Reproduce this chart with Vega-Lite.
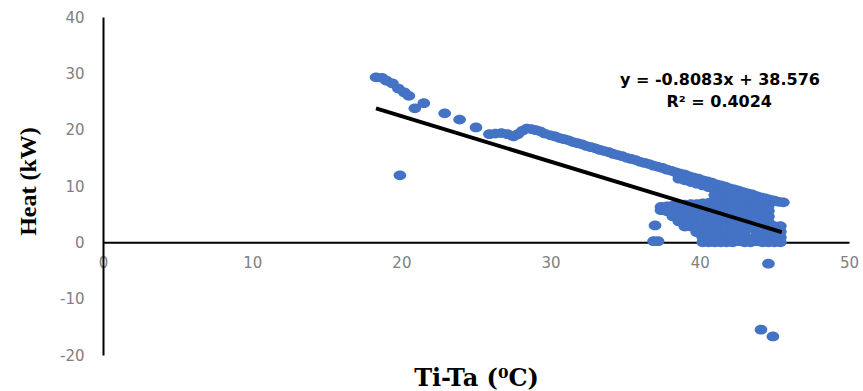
{
  "$schema": "https://vega.github.io/schema/vega-lite/v6.json",
  "width": 746,
  "height": 338,
  "autosize": {"type": "none"},
  "padding": {"left": 103, "top": 17, "right": 14, "bottom": 36},
  "background": "white",
  "config": {"view": {"stroke": null}},
  "layer": [
    {
      "data": {"values": [
        {"x":18.3,"y":29.3},{"x":18.7,"y":29.2},{"x":19.0,"y":28.7},{"x":19.4,"y":28.2},{"x":19.8,"y":27.3},{"x":20.2,"y":26.6},{"x":20.5,"y":26.0},{"x":20.9,"y":23.8},{"x":21.5,"y":24.7},{"x":22.9,"y":22.9},{"x":23.9,"y":21.8},{"x":25.0,"y":20.4},{"x":25.9,"y":19.2},{"x":26.3,"y":19.3},{"x":26.7,"y":19.4},{"x":27.1,"y":19.2},{"x":27.5,"y":18.8},{"x":27.8,"y":19.2},{"x":28.1,"y":19.8},{"x":28.4,"y":20.2},{"x":28.7,"y":20.1},{"x":29.0,"y":19.9},{"x":29.3,"y":19.7},{"x":29.6,"y":19.3},
        {"x":19.9,"y":11.9},
        {"x":30.0,"y":19.0},{"x":30.3,"y":18.8},{"x":30.6,"y":18.5},{"x":30.9,"y":18.3},{"x":31.2,"y":18.1},{"x":31.5,"y":17.8},{"x":31.8,"y":17.6},{"x":32.1,"y":17.4},{"x":32.4,"y":17.1},{"x":32.7,"y":16.9},{"x":33.0,"y":16.7},{"x":33.3,"y":16.4},{"x":33.6,"y":16.2},{"x":33.9,"y":16.0},{"x":34.2,"y":15.7},{"x":34.5,"y":15.5},{"x":34.8,"y":15.3},{"x":35.1,"y":15.0},{"x":35.4,"y":14.8},{"x":35.7,"y":14.6},{"x":36.0,"y":14.3},{"x":36.3,"y":14.1},{"x":36.6,"y":13.9},{"x":36.9,"y":13.6},{"x":37.2,"y":13.4},{"x":37.5,"y":13.2},{"x":37.8,"y":12.9},{"x":38.1,"y":12.7},{"x":38.4,"y":12.4},{"x":38.7,"y":12.2},{"x":39.0,"y":12.0},{"x":39.3,"y":11.7},{"x":39.6,"y":11.5},{"x":39.9,"y":11.3},{"x":40.2,"y":11.0},{"x":40.5,"y":10.8},{"x":40.8,"y":10.6},{"x":41.1,"y":10.3},{"x":41.4,"y":10.1},{"x":41.7,"y":9.9},{"x":42.0,"y":9.6},{"x":42.3,"y":9.4},{"x":42.6,"y":9.2},{"x":42.9,"y":8.9},{"x":43.2,"y":8.7},{"x":43.5,"y":8.5},{"x":43.8,"y":8.2},{"x":44.1,"y":8.0},{"x":44.4,"y":7.8},{"x":44.7,"y":7.6},{"x":45.0,"y":7.4},{"x":45.3,"y":7.2},{"x":45.6,"y":7.1},
        {"x":38.6,"y":11.3},{"x":39.0,"y":11.0},{"x":39.4,"y":10.7},{"x":39.8,"y":10.4},{"x":40.2,"y":10.1},{"x":40.6,"y":9.8},
        {"x":37.4,"y":6.3},{"x":37.4,"y":5.7},
        {"x":37.8,"y":6.4},{"x":37.8,"y":5.5},
        {"x":38.2,"y":6.5},{"x":38.2,"y":5.5},{"x":38.2,"y":4.6},
        {"x":38.6,"y":6.6},{"x":38.6,"y":5.6},{"x":38.6,"y":4.6},{"x":38.6,"y":3.7},
        {"x":39.0,"y":6.7},{"x":39.0,"y":5.7},{"x":39.0,"y":4.7},{"x":39.0,"y":3.7},{"x":39.0,"y":2.8},
        {"x":39.4,"y":6.8},{"x":39.4,"y":5.8},{"x":39.4,"y":4.8},{"x":39.4,"y":3.8},{"x":39.4,"y":2.8},
        {"x":39.8,"y":6.8},{"x":39.8,"y":5.8},{"x":39.8,"y":4.8},{"x":39.8,"y":3.8},{"x":39.8,"y":2.8},{"x":39.8,"y":1.8},
        {"x":40.2,"y":6.9},{"x":40.2,"y":5.9},{"x":40.2,"y":4.9},{"x":40.2,"y":3.9},{"x":40.2,"y":2.9},{"x":40.2,"y":1.9},{"x":40.2,"y":0.9},{"x":40.2,"y":0},
        {"x":40.6,"y":7.0},{"x":40.6,"y":6.0},{"x":40.6,"y":5.0},{"x":40.6,"y":4.0},{"x":40.6,"y":3.0},{"x":40.6,"y":2.0},{"x":40.6,"y":1.0},{"x":40.6,"y":0},
        {"x":41.0,"y":9.4},{"x":41.0,"y":8.4},{"x":41.0,"y":7.4},{"x":41.0,"y":6.4},{"x":41.0,"y":5.4},{"x":41.0,"y":4.4},{"x":41.0,"y":3.4},{"x":41.0,"y":2.4},{"x":41.0,"y":1.4},{"x":41.0,"y":0.4},{"x":41.0,"y":0},
        {"x":41.4,"y":9.1},{"x":41.4,"y":8.1},{"x":41.4,"y":7.1},{"x":41.4,"y":6.1},{"x":41.4,"y":5.1},{"x":41.4,"y":4.1},{"x":41.4,"y":3.1},{"x":41.4,"y":2.1},{"x":41.4,"y":1.1},{"x":41.4,"y":0},
        {"x":41.8,"y":8.8},{"x":41.8,"y":7.8},{"x":41.8,"y":6.8},{"x":41.8,"y":5.8},{"x":41.8,"y":4.8},{"x":41.8,"y":3.8},{"x":41.8,"y":2.8},{"x":41.8,"y":1.8},{"x":41.8,"y":0.8},{"x":41.8,"y":0},
        {"x":42.2,"y":8.5},{"x":42.2,"y":7.5},{"x":42.2,"y":6.5},{"x":42.2,"y":5.5},{"x":42.2,"y":4.5},{"x":42.2,"y":3.5},{"x":42.2,"y":2.5},{"x":42.2,"y":1.5},{"x":42.2,"y":0.5},{"x":42.2,"y":0},
        {"x":42.6,"y":8.2},{"x":42.6,"y":7.2},{"x":42.6,"y":6.2},{"x":42.6,"y":5.2},{"x":42.6,"y":4.2},{"x":42.6,"y":3.2},{"x":42.6,"y":2.2},{"x":42.6,"y":1.2},{"x":42.6,"y":0.2},
        {"x":43.0,"y":7.9},{"x":43.0,"y":6.9},{"x":43.0,"y":5.9},{"x":43.0,"y":4.9},{"x":43.0,"y":3.9},{"x":43.0,"y":2.9},{"x":43.0,"y":1.9},{"x":43.0,"y":0.9},{"x":43.0,"y":0},
        {"x":43.4,"y":7.6},{"x":43.4,"y":6.6},{"x":43.4,"y":5.6},{"x":43.4,"y":4.6},{"x":43.4,"y":3.6},{"x":43.4,"y":2.6},{"x":43.4,"y":0.6},{"x":43.4,"y":0},
        {"x":43.8,"y":7.2},{"x":43.8,"y":6.2},{"x":43.8,"y":5.2},{"x":43.8,"y":4.2},{"x":43.8,"y":3.2},{"x":43.8,"y":2.2},{"x":43.8,"y":1.2},{"x":43.8,"y":0.2},
        {"x":44.2,"y":6.9},{"x":44.2,"y":5.9},{"x":44.2,"y":4.9},{"x":44.2,"y":3.9},{"x":44.2,"y":2.9},{"x":44.2,"y":1.9},{"x":44.2,"y":0.9},{"x":44.2,"y":0},
        {"x":44.6,"y":6.6},{"x":44.6,"y":5.6},{"x":44.6,"y":4.6},{"x":44.6,"y":3.6},{"x":44.6,"y":2.6},{"x":44.6,"y":1.6},{"x":44.6,"y":0.6},{"x":44.6,"y":0},
        {"x":45.0,"y":2.9},{"x":45.0,"y":1.9},{"x":45.0,"y":0.9},{"x":45.0,"y":0},
        {"x":45.4,"y":2.9},{"x":45.4,"y":1.9},{"x":45.4,"y":0.9},{"x":45.4,"y":0},
        {"x":37.0,"y":3.0},{"x":36.9,"y":0.2},{"x":37.2,"y":0.2},
        {"x":44.6,"y":-3.8},{"x":44.1,"y":-15.5},{"x":44.9,"y":-16.7}
      ]},
      "mark": {"type": "point", "filled": true, "size": 160, "color": "#4472C4", "opacity": 1,
        "shape": "M-1,0A1,0.77,0,1,0,1,0A1,0.77,0,1,0,-1,0Z"},
      "encoding": {
        "x": {"field": "x", "type": "quantitative",
          "scale": {"domain": [0, 50], "nice": false, "zero": false},
          "axis": {"values": [0, 10, 20, 30, 40, 50], "title": "Ti-Ta  (⁰C)", "offset": -112.67,
            "grid": false, "ticks": false, "domainColor": "black", "domainWidth": 2,
            "labelColor": "#808080", "labelFont": "DejaVu Sans", "labelFontSize": 15, "labelPadding": 13,
            "labelFlush": false, "labelOverlap": false, "labelExpr": "toString(datum.value)",
            "titleFont": "DejaVu Serif", "titleFontSize": 24, "titleFontWeight": "bold", "titleColor": "black",
            "titleY": 136, "titleBaseline": "middle"}},
        "y": {"field": "y", "type": "quantitative",
          "scale": {"domain": [-20, 40], "nice": false, "zero": false},
          "axis": {"values": [-20, -10, 0, 10, 20, 30, 40], "title": "Heat (kW)",
            "grid": false, "ticks": false, "domainColor": "black", "domainWidth": 2,
            "labelColor": "#808080", "labelFont": "DejaVu Sans", "labelFontSize": 15, "labelPadding": 19,
            "labelFlush": false, "labelOverlap": false, "labelExpr": "toString(datum.value)",
            "titleFont": "Liberation Serif", "titleFontSize": 24, "titleFontWeight": "bold", "titleColor": "black",
            "titleX": -75, "titleY": 164, "titleBaseline": "middle"}}
      }
    },
    {
      "data": {"values": [{"x": 18.3, "y": 23.78}, {"x": 45.5, "y": 1.80}]},
      "mark": {"type": "line", "color": "black", "strokeWidth": 4},
      "encoding": {
        "x": {"field": "x", "type": "quantitative"},
        "y": {"field": "y", "type": "quantitative"}
      }
    },
    {
      "data": {"values": [
        {"x": 41.35, "y": 28.8, "t": "y = -0.8083x + 38.576"},
        {"x": 41.3, "y": 24.9, "t": "R² = 0.4024"}
      ]},
      "mark": {"type": "text", "font": "DejaVu Sans", "fontSize": 16, "fontWeight": "bold", "color": "black", "align": "center", "baseline": "middle"},
      "encoding": {
        "x": {"field": "x", "type": "quantitative"},
        "y": {"field": "y", "type": "quantitative"},
        "text": {"field": "t"}
      }
    }
  ]
}
